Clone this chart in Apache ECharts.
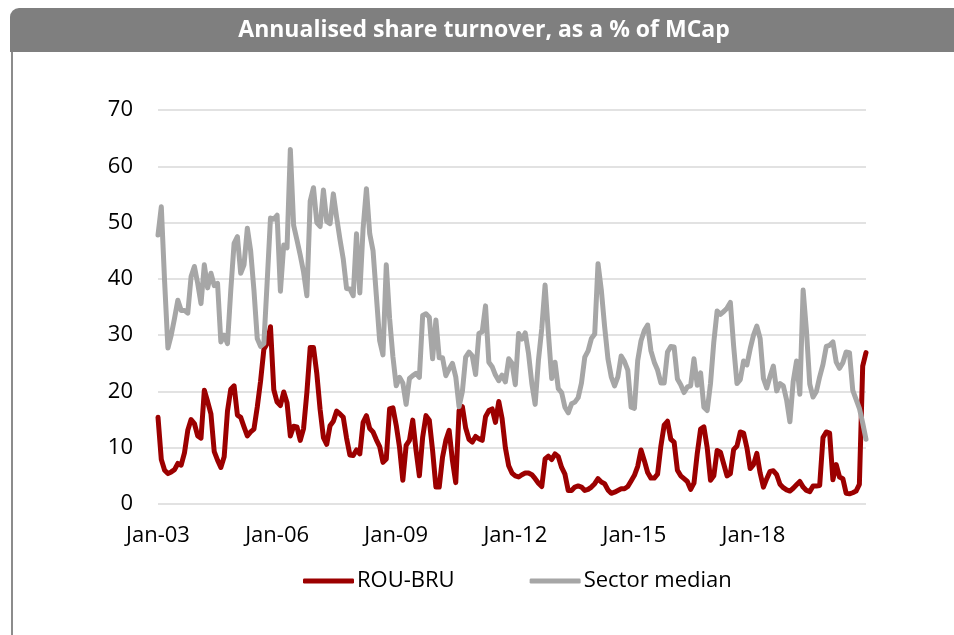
<!DOCTYPE html>
<html>
<head>
<meta charset="utf-8">
<title>Annualised share turnover</title>
<script src="https://cdn.jsdelivr.net/npm/echarts@6/dist/echarts.min.js"></script>
<style>
  html, body { margin: 0; padding: 0; background: #ffffff; }
  #chart { width: 954px; height: 635px; }
</style>
</head>
<body>
<div id="chart"></div>
<script>
// Monthly series, Jan-03 onwards (one value per month, % of market cap, annualised)
const startYear = 2003;

const rouBru = [
  15.4, 7.9, 6, 5.4, 5.7, 6.1, 7.2, 6.9, 9.1, 13.1,
  15, 14.3, 12.1, 11.7, 20.2, 18.2, 16, 9.3, 7.8, 6.5,
  8.4, 16.5, 20.4, 21, 15.8, 15.4, 13.7, 12.1, 12.8, 13.3,
  17.2, 21.8, 27.5, 28.5, 31.5, 20.3, 18.1, 17.5, 19.9, 18,
  12.1, 13.8, 13.7, 11.3, 13.4, 19.8, 27.8, 27.8, 23.2, 16.8,
  11.8, 10.6, 13.9, 14.7, 16.5, 16, 15.4, 11.7, 8.7, 8.6,
  9.6, 8.9, 14.5, 15.7, 13.4, 12.8, 11.4, 10.2, 7.4, 8,
  16.9, 17.1, 14, 10.1, 4.2, 10.4, 11.3, 14.9, 9.5, 5,
  11.9, 15.7, 14.9, 9.5, 3, 3, 8.3, 11.3, 13.1, 7.7,
  3.8, 16.6, 17.3, 13.5, 11.5, 11, 12, 11.6, 11.3, 15.5,
  16.6, 16.9, 14.5, 18.2, 15.2, 10, 6.8, 5.5, 5, 4.8,
  5.2, 5.5, 5.5, 5.2, 4.5, 3.7, 3.1, 8, 8.5, 7.9,
  8.9, 8.4, 6.5, 5.3, 2.4, 2.4, 3, 3.2, 3, 2.4,
  2.6, 3, 3.6, 4.5, 3.9, 3.6, 2.5, 1.9, 2.1, 2.4,
  2.7, 2.7, 3.1, 4.1, 5.1, 6.7, 9.6, 7.7, 5.6, 4.6,
  4.6, 5.3, 10.3, 14, 14.7, 11.5, 11, 6, 5, 4.5,
  4, 2.6, 3.7, 9, 13.3, 13.7, 10, 4.2, 5, 9.5,
  9.2, 7.1, 5, 5.4, 9.7, 10.3, 12.8, 12.6, 10, 6.3,
  7, 9, 5.5, 3, 4.5, 5.8, 5.9, 5.2, 3.5, 2.9,
  2.5, 2.3, 2.8, 3.4, 4, 3, 2.4, 2.2, 3.2, 3.2,
  3.3, 11.8, 12.8, 12.6, 4.3, 7, 4.8, 4.5, 1.9, 1.8,
  2, 2.3, 3.5, 24.5, 26.9
];

const sectorMedian = [
  47.8, 52.8, 39.5, 27.7, 30, 33, 36.2, 34.4, 34.4, 33.9,
  40.4, 42.2, 39.2, 35.6, 42.5, 38.4, 41, 38.8, 39.2, 28.8,
  30, 28.5, 38, 46.3, 47.5, 41, 42.5, 49, 45, 38,
  29.4, 28, 28.5, 39.5, 50.8, 50.6, 51.3, 37.8, 46, 45.5,
  63, 49.5, 46.9, 44.2, 41.2, 37, 53.8, 56.2, 50, 49.3,
  55.8, 50.2, 49.8, 55.1, 50.9, 47, 43.5, 38.3, 38.2, 37,
  48, 37.5, 49, 56, 48, 45, 37, 29, 26.5, 42.5,
  33, 26.2, 21, 22.5, 21.5, 17.7, 22.3, 22.8, 23.2, 22.5,
  33.5, 33.8, 33.2, 25.8, 32.7, 26, 26, 22.8, 24, 25,
  22.6, 17.3, 20, 26.1, 27, 26.3, 23, 30.3, 30.6, 35.2,
  25.2, 24.4, 22.9, 21.9, 22.9, 21.7, 25.8, 25, 21.2, 30.3,
  29.3, 30.4, 26.7, 21.4, 17.7, 25.6, 31.2, 38.9, 30.3, 22.3,
  25.2, 20.5, 19.8, 17.2, 16.2, 17.8, 18.1, 18.9, 21.5, 26.1,
  27.2, 29.4, 30.2, 42.7, 38, 31.5, 25.8, 22.6, 21, 22.6,
  26.3, 25.3, 23.8, 17.2, 17, 25.5, 29, 30.8, 31.8, 27.2,
  25.2, 23.8, 21.5, 21.5, 27, 28, 27.9, 22.2, 21.2, 19.8,
  20.8, 21, 25.8, 21.1, 23.3, 17.2, 16.6, 21.4, 28.8, 34.3,
  33.7, 34.2, 34.8, 35.8, 28, 21.4, 22.1, 25.4, 24.7, 27.6,
  30, 31.6, 29.4, 22.3, 20.6, 22.7, 24.5, 20.1, 21.4, 21,
  18.5, 14.6, 21.8, 25.4, 19.5, 38, 30.8, 21.3, 19, 20,
  22.6, 24.8, 28, 28.2, 28.8, 25.2, 24.1, 25.1, 27, 26.9,
  20.2, 18.6, 17, 14.4, 11.5
];

const seriesNames = ['ROU-BRU', 'Sector median'];
const tickLabels = ['Jan-03', 'Jan-06', 'Jan-09', 'Jan-12', 'Jan-15', 'Jan-18'];
const yTicks = [0, 10, 20, 30, 40, 50, 60, 70];
const titleText = 'Annualised share turnover, as a % of MCap';

// Month-by-month category labels such as "Jan-03"
const monthNames = ['Jan','Feb','Mar','Apr','May','Jun','Jul','Aug','Sep','Oct','Nov','Dec'];
const months = rouBru.map((_, i) => {
  const y = startYear + Math.floor(i / 12);
  return monthNames[i % 12] + '-' + String(y % 100).padStart(2, '0');
});

const FONT = '"Open Sans", sans-serif';
const chart = echarts.init(document.getElementById('chart'), null, { renderer: 'canvas' });

chart.setOption({
  backgroundColor: '#ffffff',
  animation: false,
  graphic: [
    {
      type: 'rect',
      shape: { x: 10, y: 8, width: 960, height: 44, r: [9, 0, 0, 0] },
      style: { fill: '#7f7f7f' },
      z: 10
    },
    {
      type: 'line',
      shape: { x1: 12, y1: 52, x2: 12, y2: 640 },
      style: { stroke: '#8c8c8c', lineWidth: 2 },
      z: 10
    },
    {
      type: 'text',
      x: 484, y: 30,
      style: {
        text: titleText,
        fill: '#ffffff',
        font: 'bold 23px ' + FONT,
        align: 'center',
        verticalAlign: 'middle'
      },
      z: 11
    }
  ],
  grid: { left: 158, right: 88, top: 110, bottom: 131, containLabel: false },
  legend: {
    data: seriesNames,
    left: 298,
    top: 565,
    itemWidth: 51,
    itemHeight: 5,
    itemGap: 75,
    icon: 'roundRect',
    textStyle: { fontFamily: FONT, fontSize: 22, color: '#000000', padding: [0, 0, 0, -2] }
  },
  xAxis: {
    type: 'category',
    data: months,
    boundaryGap: false,
    axisLine: { show: false },
    axisTick: { show: false },
    splitLine: { show: false },
    axisLabel: {
      interval: (index, value) => tickLabels.indexOf(value) >= 0,
      margin: 21,
      fontFamily: FONT,
      fontSize: 22,
      color: '#000000'
    }
  },
  yAxis: {
    type: 'value',
    min: yTicks[0],
    max: yTicks[yTicks.length - 1],
    interval: 10,
    axisLine: { show: false },
    axisTick: { show: false },
    splitLine: { lineStyle: { color: '#d9d9d9', width: 1.5 } },
    axisLabel: {
      margin: 25,
      fontFamily: FONT,
      fontSize: 22,
      color: '#000000'
    }
  },
  series: [
    {
      name: seriesNames[0],
      type: 'line',
      data: rouBru,
      showSymbol: false,
      symbol: 'none',
      color: '#9c0000',
      lineStyle: { width: 5, join: 'round', cap: 'round' }
    },
    {
      name: seriesNames[1],
      type: 'line',
      data: sectorMedian,
      showSymbol: false,
      symbol: 'none',
      color: '#a6a6a6',
      lineStyle: { width: 5, join: 'round', cap: 'round' }
    }
  ]
});
</script>
</body>
</html>
